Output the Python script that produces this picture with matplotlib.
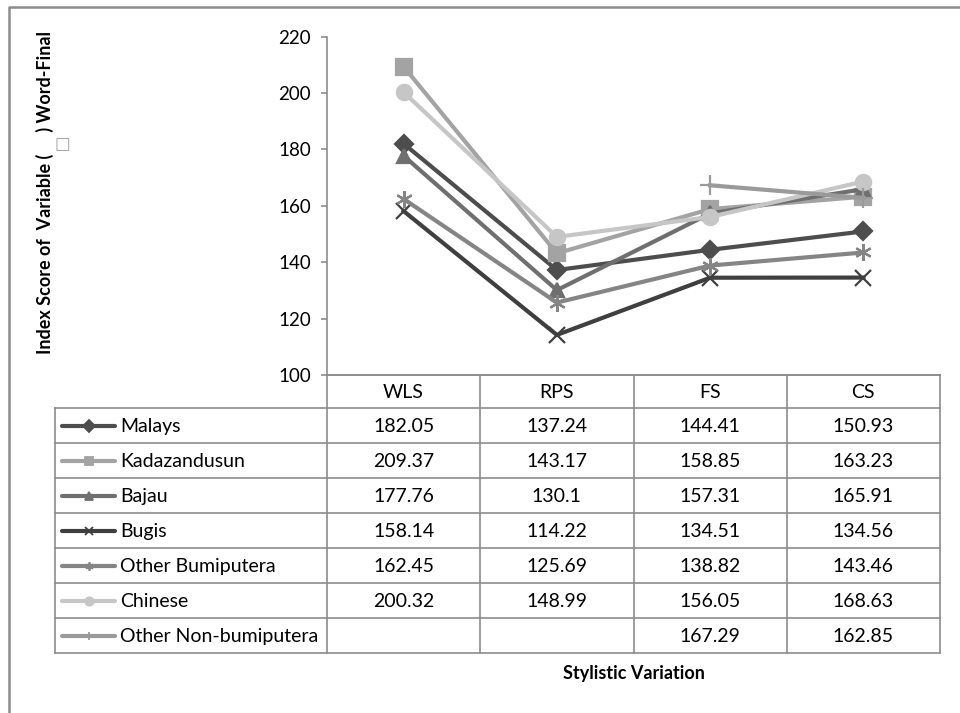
import numpy as np
import matplotlib
matplotlib.use('Agg')
import matplotlib.pyplot as plt

plt.rcParams['font.family'] = ['Lato', 'DejaVu Sans']

# Index scores per group and style
styles = ['WLS', 'RPS', 'FS', 'CS']
groups = ['Malays', 'Kadazandusun', 'Bajau', 'Bugis', 'Other Bumiputera', 'Chinese', 'Other Non-bumiputera']
malays = [182.05, 137.24, 144.41, 150.93]
kadazandusun = [209.37, 143.17, 158.85, 163.23]
bajau = [177.76, 130.1, 157.31, 165.91]
bugis = [158.14, 114.22, 134.51, 134.56]
other_bumi = [162.45, 125.69, 138.82, 143.46]
chinese = [200.32, 148.99, 156.05, 168.63]
other_non_bumi = [None, None, 167.29, 162.85]

yticks = [100, 120, 140, 160, 180, 200, 220]

series = [malays, kadazandusun, bajau, bugis, other_bumi, chinese, other_non_bumi]
colors = ['#4d4d4d', '#a3a3a3', '#6f6f6f', '#3f3f3f', '#858585', '#c6c6c6', '#9a9a9a']
markers = ['D', 's', '^', 'x', (6, 2, 0), 'o', '+']
msizes = [9, 11, 10, 12, 12, 11, 14]

W, H = 960, 713
fig = plt.figure(figsize=(W / 100, H / 100), dpi=100)

# outer frame
frame = fig.add_axes([0, 0, 1, 1])
frame.set_xlim(0, W)
frame.set_ylim(H, 0)
frame.axis('off')
frame.plot([9, 9, W], [H, 7, 7], color='#8c8c8c', lw=1.8)

# line chart area
x0, x1, ytop, ybot = 327, 940, 36.7, 375
ax = fig.add_axes([x0 / W, 1 - ybot / H, (x1 - x0) / W, (ybot - ytop) / H])
xs = np.arange(len(styles))
for vals, c, m, ms in zip(series, colors, markers, msizes):
    v = np.array([np.nan if a is None else a for a in vals], dtype=float)
    ax.plot(xs, v, color=c, lw=3, marker=m, markersize=ms, markeredgewidth=1.6,
            markeredgecolor=c, markerfacecolor=c, solid_joinstyle='miter')
ax.set_xlim(-0.5, len(styles) - 0.5)
ax.set_ylim(100, 220)
ax.set_yticks(yticks)
ax.set_xticks([])
for s in ['top', 'right']:
    ax.spines[s].set_visible(False)
for s in ['left', 'bottom']:
    ax.spines[s].set_color('#8c8c8c')
    ax.spines[s].set_linewidth(1.2)
ax.tick_params(axis='y', length=4.5, width=1.2, color='#8c8c8c', labelsize=13.5, pad=7)
ax.set_facecolor('none')

# y axis title, with the missing-glyph box drawn in the gap between the brackets
lab_x, lab_y = 45, 192
prefix = 'Index Score of  Variable ('
label = prefix + '     ) Word-Final'
ylab = fig.text(lab_x / W, 1 - lab_y / H, label, rotation=90,
                ha='center', va='center', fontsize=13, fontweight='bold')
r = fig.canvas.get_renderer()
full_h = ylab.get_window_extent(r).height
tmp = fig.text(0, 0, prefix, rotation=90, fontsize=13, fontweight='bold')
pre_h = tmp.get_window_extent(r).height
tmp.remove()
gap_y = lab_y + full_h / 2 - pre_h - 9
fig.text((lab_x + 17) / W, 1 - gap_y / H, '\u25a1', ha='center', va='center', fontsize=12,
         color='#a0a0a0', family='DejaVu Sans')

# data table below the chart
tab = fig.add_axes([0, 0, 1, 1])
tab.set_xlim(0, W)
tab.set_ylim(H, 0)
tab.axis('off')
tab.patch.set_alpha(0)
tl, tr = 55, 940
colw = (tr - x0) / len(styles)
hdr_top, hdr_bot, rowh = 375, 408, 35
ybottom = hdr_bot + rowh * len(groups)
gc = '#8c8c8c'
# horizontal rules
tab.plot([x0, tr], [hdr_top, hdr_top], color=gc, lw=1.2)
for i in range(len(groups) + 1):
    y = hdr_bot + i * rowh
    tab.plot([tl, tr], [y, y], color=gc, lw=1.2)
# vertical rules
tab.plot([tl, tl], [hdr_bot, ybottom], color=gc, lw=1.2)
for j in range(len(styles) + 1):
    x = x0 + j * colw
    tab.plot([x, x], [hdr_top, ybottom], color=gc, lw=1.2)

fs = 14
for j, s in enumerate(styles):
    tab.text(x0 + (j + 0.5) * colw, (hdr_top + hdr_bot) / 2 + 1, s, ha='center', va='center', fontsize=fs)

for i, (g, vals, c, m) in enumerate(zip(groups, series, colors, markers)):
    yc = hdr_bot + (i + 0.5) * rowh
    tab.plot([62, 115], [yc, yc], color=c, lw=3, solid_capstyle='round')
    tab.plot([88.5], [yc], marker=m, color=c, markersize=6, markeredgewidth=1.3)
    tab.text(120, yc + 1, g, ha='left', va='center', fontsize=fs)
    for j, v in enumerate(vals):
        if v is None:
            continue
        tab.text(x0 + (j + 0.5) * colw, yc + 1, f'{v:g}', ha='center', va='center', fontsize=fs)

# x axis title
fig.text((x0 + tr) / 2 / W, 1 - 673 / H, 'Stylistic Variation', ha='center', va='center',
         fontsize=13, fontweight='bold')

fig.savefig('out.png', dpi=100)
